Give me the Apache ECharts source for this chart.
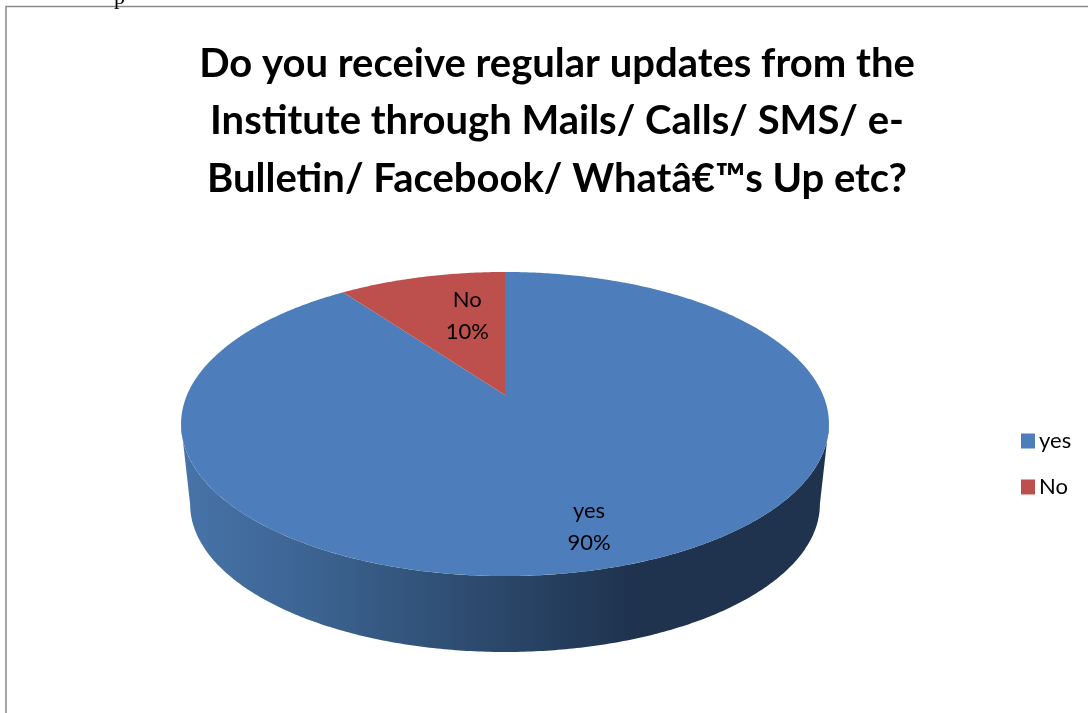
<!DOCTYPE html>
<html>
<head>
<meta charset="utf-8">
<title>Updates from the Institute</title>
<script src="https://cdn.jsdelivr.net/npm/echarts@6/dist/echarts.min.js"></script>
<style>
  html, body { margin: 0; padding: 0; background: #fff; }
  #chart { width: 1088px; height: 713px; }
</style>
</head>
<body>
<div id="chart"></div>
<script>
var categories = ["yes", "No"];
var shares = [90, 10];
var sliceColors = ["#4d7ebb", "#bd4f4c"];
var chartTitle = "Do you receive regular updates from the\nInstitute through Mails/ Calls/ SMS/ e-\nBulletin/ Facebook/ Whatâ€™s Up etc?";

var fontName = "Lato, 'Noto Sans', sans-serif";

// perspective of the tilted disc, fitted to the picture
var apex = {x: 505, y: 395};
var top_a = 318, top_b = 146.5, tilt = 0.1908;
var wall_scale = 0.972, wall_y = 476;
var label_r = [0.808, 0.632], label_dx = [-9, 18];

function project(theta, r, scale, cy) {
  var px = Math.sin(theta) * r;
  var pz = -Math.cos(theta) * r;
  var w = 1 - tilt * pz;
  return [apex.x + top_a * scale * px / w, cy + top_b * scale * pz / w];
}

function arcPoints(from, to, scale, cy) {
  var pts = [];
  var steps = Math.max(2, Math.ceil((to - from) / 0.01));
  for (var i = 0; i <= steps; i++) {
    pts.push(project(from + (to - from) * i / steps, 1, scale, cy));
  }
  return pts;
}

function sliceItem(index) {
  return function (params, api) {
    var total = shares.reduce(function (a, b) { return a + b; }, 0);
    var before = shares.slice(0, index).reduce(function (a, b) { return a + b; }, 0);
    var start = before / total * Math.PI * 2;
    var end = start + api.value(0) / total * Math.PI * 2;
    var children = [];

    // the wall only shows between the two side extremes of the disc
    var front_a = Math.acos(-tilt);
    var front_b = Math.PI * 2 - front_a;
    var from = Math.max(start, front_a);
    var to = Math.min(end, front_b);
    if (to > from) {
      var upper = arcPoints(from, to, 1, apex.y);
      var lower = arcPoints(from, to, wall_scale, wall_y).reverse();
      children.push({
        type: "polygon",
        shape: {points: upper.concat(lower)},
        style: {
          fill: new echarts.graphic.LinearGradient(185, 0, 825, 0, [
            {offset: 0, color: "#4773a8"},
            {offset: 0.18, color: "#3d6594"},
            {offset: 0.5, color: "#2a4668"},
            {offset: 0.7, color: "#1f334f"},
            {offset: 1, color: "#1f334f"}
          ], true)
        }
      });
    }

    var top_pts = [[apex.x, apex.y]].concat(arcPoints(start, end, 1, apex.y));
    children.push({
      type: "polygon",
      shape: {points: top_pts},
      style: {fill: sliceColors[index]}
    });

    var mid = (start + end) / 2;
    var pos = project(mid, label_r[index], 1, apex.y);
    children.push({
      type: "text",
      x: pos[0] + label_dx[index],
      y: pos[1],
      style: {
        text: categories[index] + "\n" + Math.round(api.value(0) / total * 100) + "%",
        font: "22px " + fontName,
        lineHeight: 32,
        fill: "#000",
        align: "center",
        verticalAlign: "middle"
      }
    });
    return {type: "group", children: children};
  };
}

var chart = echarts.init(document.getElementById("chart"));
chart.setOption({
  animation: false,
  color: sliceColors,
  title: {
    text: chartTitle,
    left: 552,
    top: 30,
    textAlign: "center",
    textStyle: {
      fontFamily: fontName,
      fontWeight: "bold",
      fontSize: 40,
      lineHeight: 57.5,
      color: "#000"
    }
  },
  legend: {
    data: categories,
    orient: "vertical",
    left: 1016,
    top: 425,
    icon: "rect",
    itemWidth: 14,
    itemHeight: 15,
    itemGap: 24,
    textStyle: {fontFamily: fontName, fontSize: 22, color: "#000", padding: [0, 0, 0, -1]}
  },
  graphic: [
    {
      type: "polyline",
      shape: {points: [[6, 713], [6, 6.5], [1088, 6.5]]},
      style: {stroke: "#8a8a8a", lineWidth: 1.5, fill: null}
    },
    {
      type: "text",
      x: 114,
      y: -13,
      style: {text: "p", font: "22px 'Liberation Serif', serif", fill: "#000"}
    }
  ],
  series: categories.map(function (name, i) {
    return {
      type: "custom",
      name: name,
      coordinateSystem: "none",
      silent: true,
      itemStyle: {color: sliceColors[i]},
      data: [[shares[i]]],
      renderItem: sliceItem(i)
    };
  })
});
</script>
</body>
</html>
